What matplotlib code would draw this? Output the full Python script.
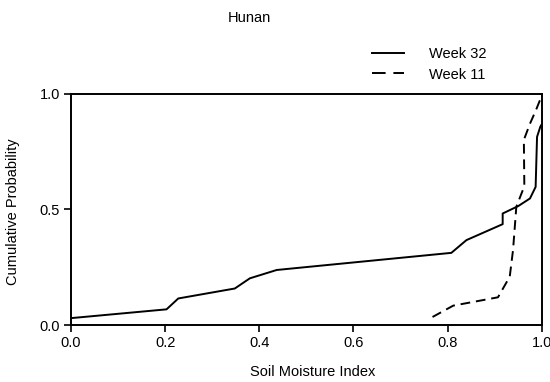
import matplotlib
matplotlib.use("Agg")
import matplotlib.pyplot as plt

plt.rcParams['font.family'] = ['Liberation Sans', 'DejaVu Sans']

# Week 32 (solid) cumulative curve
w32_x = [0.0, 0.203, 0.228, 0.348, 0.380, 0.437, 0.507, 0.808, 0.840, 0.917, 0.917,
         0.950, 0.975, 0.987, 0.990, 0.997, 0.999]
w32_y = [0.030, 0.068, 0.115, 0.158, 0.202, 0.238, 0.252, 0.312, 0.367, 0.436, 0.482,
         0.514, 0.547, 0.597, 0.813, 0.857, 0.864]

# Week 11 (dashed) cumulative curve
w11_x = [0.768, 0.812, 0.907, 0.932, 0.939, 0.946, 0.963, 0.962, 0.975, 0.988, 0.999]
w11_y = [0.035, 0.084, 0.120, 0.209, 0.324, 0.511, 0.600, 0.800, 0.870, 0.930, 0.986]

xticks = [0.0, 0.2, 0.4, 0.6, 0.8, 1.0]
yticks = [0.0, 0.5, 1.0]

fs = 10.5

fig = plt.figure(figsize=(5.5, 3.82), dpi=100)
ax = fig.add_axes([0.129, 0.149, 0.856, 0.606])

ax.plot(w32_x, w32_y, color='black', lw=1.4, label='Week 32')
ax.plot(w11_x, w11_y, color='black', lw=1.4, ls=(0, (5, 3)), label='Week 11')

ax.set_xlim(0, 1)
ax.set_ylim(0, 1)
ax.set_xticks(xticks)
ax.set_xticklabels([f"{t:.1f}" for t in xticks])
ax.set_yticks(yticks)
ax.set_yticklabels([f"{t:.1f}" for t in yticks])
ax.tick_params(direction='out', length=5, width=1.2, labelsize=fs, pad=3)
for s in ax.spines.values():
    s.set_linewidth(1.4)

fig.text(0.453, 0.953, 'Hunan', ha='center', va='center', fontsize=fs)
fig.text(0.569, 0.026, 'Soil Moisture Index', ha='center', va='center', fontsize=fs)
fig.text(0.024, 0.445, 'Cumulative Probability', ha='center', va='center',
         rotation=90, fontsize=fs)

leg = fig.legend(loc='upper left', bbox_to_anchor=(0.666, 0.893), frameon=False,
                 fontsize=fs, handlelength=2.2, handletextpad=1.7, labelspacing=0.47,
                 borderaxespad=0)
leg.get_lines()[1].set_dashes((7, 4))

fig.savefig('out.png', dpi=100)
